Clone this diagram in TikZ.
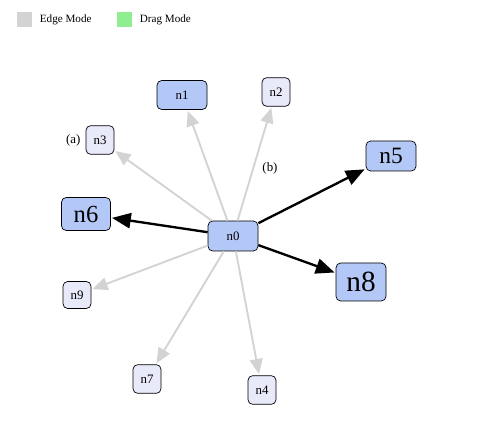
\documentclass[tikz,border=0pt]{standalone}
\usepackage{fontspec}
\setmainfont{Liberation Serif}
\usetikzlibrary{arrows.meta,positioning}
\definecolor{NodeBlue}{HTML}{B4C8F8}
\definecolor{NodePale}{HTML}{E8EAFA}
\definecolor{EdgeGrey}{HTML}{D3D3D3}
\definecolor{DragGreen}{HTML}{90EE90}

\begin{document}
\begin{tikzpicture}[x=0.03cm,y=-0.03cm, every node/.style={font=\fontsize{11}{13}\selectfont},
  box/.style={draw, rounded corners=4pt, inner sep=0pt, line width=0.6pt},
  bluebox/.style={box, fill=NodeBlue, minimum width=1.5cm, minimum height=0.9cm},
  palebox/.style={box, fill=NodePale, minimum width=0.84cm, minimum height=0.86cm},
  keybox/.style={fill=#1, minimum size=0.45cm, inner sep=0pt},
  greyedge/.style={draw=EdgeGrey, line width=1.6pt, -{Triangle[length=13pt,width=11pt]}, shorten >=1pt},
  blackedge/.style={draw=black, line width=2pt, -{Triangle[length=16pt,width=13pt]}, shorten >=1pt}]
  \useasboundingbox (0,0) rectangle (479,433);
  % legend
  \node[keybox=EdgeGrey] (edgekey) at (24.5,19.5) {};
  \node[right=3pt of edgekey, font=\fontsize{9.5}{11}\selectfont] (edgetxt) {Edge Mode};
  \node[keybox=DragGreen] (dragkey) at (124.5,19.5) {};
  \node[right=3pt of dragkey, font=\fontsize{9.5}{11}\selectfont] (dragtxt) {Drag Mode};
  % nodes
  \node[bluebox] (n0) at (233,236) {n0};
  \node[bluebox, minimum height=0.87cm] (n1) at (182,95) {n1};
  \node[palebox] (n2) at (276,92) {n2};
  \node[palebox] (n3) at (100,140) {n3};
  \node[palebox] (n4) at (262,390) {n4};
  \node[bluebox, font=\fontsize{20}{22}\selectfont] (n5) at (391,156) {n5};
  \node[bluebox, minimum width=1.47cm, minimum height=0.99cm, font=\fontsize{21}{23}\selectfont] (n6) at (86,214) {n6};
  \node[palebox] (n7) at (147,379) {n7};
  \node[bluebox, minimum height=1.14cm, font=\fontsize{25}{27}\selectfont] (n8) at (361,282) {n8};
  \node[palebox, minimum height=0.81cm] (n9) at (77,295) {n9};
  \node[left=1pt of n3] (lbla) {(a)};
  \node (lblb) at (270,168) {(b)};
  % edges
  \foreach \t in {n1,n2,n3,n9,n7,n4}{\draw[greyedge] (n0) -- (\t);}
  \foreach \t in {n5,n6,n8}{\draw[blackedge] (n0) -- (\t);}
\end{tikzpicture}
\end{document}
